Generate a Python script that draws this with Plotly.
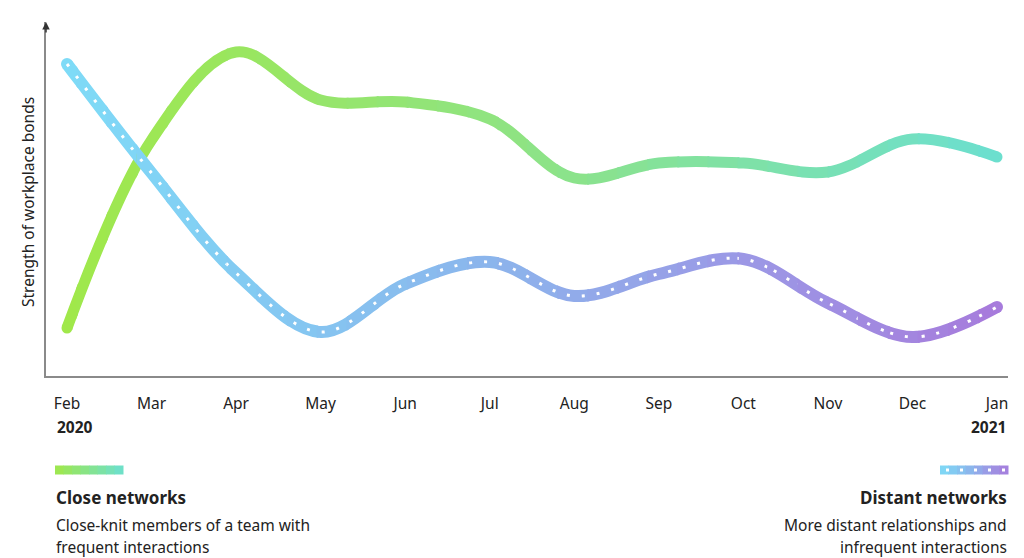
import plotly.graph_objects as go

# Data (arbitrary "strength" units)
months = ["Feb", "Mar", "Apr", "May", "Jun", "Jul", "Aug", "Sep", "Oct", "Nov", "Dec", "Jan"]
close_networks = [48, 236, 324, 276, 274, 257, 198, 213, 213, 204, 237, 219]
distant_networks = [312, 203, 103, 44, 92, 114, 80, 102, 117, 73, 39, 69]

FONT = "Noto Sans"
TEXT = "#222222"
AXIS = "#8a8a8a"

# Screen-pixel layout of the plot area (page body has an 8px margin)
PAGE_MARGIN = 8
W, H = 1024 - PAGE_MARGIN, 558 - PAGE_MARGIN
PLOT_LEFT, PLOT_RIGHT, PLOT_TOP, PLOT_BOTTOM = 46, 1008, 22, 376
PW = PLOT_RIGHT - PLOT_LEFT
PH = PLOT_BOTTOM - PLOT_TOP
M_L = PLOT_LEFT - PAGE_MARGIN
M_T = PLOT_TOP - PAGE_MARGIN
M_R = W - M_L - PW
M_B = H - M_T - PH
X0 = -21 / 84.545
X1 = 11 + 11 / 84.545
Y_RANGE = [0, PH]

GREEN_STOPS = [(0.0, (160, 232, 74)), (0.5, (142, 227, 133)), (1.0, (108, 223, 207))]
BLUE_STOPS = [(0.0, (126, 219, 247)), (0.45, (139, 181, 236)), (0.7, (154, 155, 230)), (1.0, (167, 123, 220))]


def mix(stops, t):
    t = min(max(t, 0.0), 1.0)
    for (t0, c0), (t1, c1) in zip(stops, stops[1:]):
        if t <= t1:
            f = (t - t0) / (t1 - t0)
            return "rgb(%d,%d,%d)" % tuple(round(a + (b - a) * f) for a, b in zip(c0, c1))
    return "rgb(%d,%d,%d)" % stops[-1][1]


def cap_sizes(n, size):
    # round-looking ends: markers only on the first and last point
    return [size] + [0] * (n - 2) + [size]


fig = go.Figure()
n_strips = 32
overlap = 2 / PW  # strips overlap a little so no seams show
x_idx = list(range(len(months)))
layout_axes = {}

# Each vertical strip is its own subplot showing the full series, clipped to the
# strip, so the colour can shift along x to fake a gradient stroke.
for i in range(n_strips):
    a = i / n_strips
    b = min(1.0, (i + 1) / n_strips + overlap)
    name = "x" if i == 0 else "x%d" % (i + 1)
    key = "xaxis" if i == 0 else "xaxis%d" % (i + 1)
    layout_axes[key] = dict(
        domain=[a, b], range=[X0 + a * (X1 - X0), X0 + b * (X1 - X0)],
        visible=False, fixedrange=True, anchor="y",
    )
    px_mid = PLOT_LEFT + (i + 0.5) / n_strips * PW
    t = (px_mid - 67) / 930
    g_col = mix(GREEN_STOPS, t)
    b_col = mix(BLUE_STOPS, t)
    fig.add_trace(go.Scatter(
        x=x_idx, y=close_networks, xaxis=name, yaxis="y",
        mode="lines+markers", line=dict(color=g_col, width=11, shape="spline"),
        marker=dict(color=g_col, size=cap_sizes(len(months), 11), opacity=1, line=dict(width=0)),
        hoverinfo="skip", showlegend=False,
    ))
    fig.add_trace(go.Scatter(
        x=x_idx, y=distant_networks, xaxis=name, yaxis="y",
        mode="lines+markers", line=dict(color=b_col, width=12, shape="spline"),
        marker=dict(color=b_col, size=cap_sizes(len(months), 12), opacity=1, line=dict(width=0)),
        hoverinfo="skip", showlegend=False,
    ))
    fig.add_trace(go.Scatter(
        x=x_idx, y=distant_networks, xaxis=name, yaxis="y",
        mode="lines", line=dict(color="white", width=3, shape="spline", dash="3px,12px"),
        hoverinfo="skip", showlegend=False,
    ))

# Visible axis carrying the month ticks
tick_key = "xaxis%d" % (n_strips + 1)
layout_axes[tick_key] = dict(
    domain=[0, 1], range=[X0, X1], anchor="y", fixedrange=True,
    tickvals=x_idx, ticktext=months, ticks="", ticklabelstandoff=13,
    tickfont=dict(family=FONT, size=15.5, color=TEXT),
    showline=True, linecolor=AXIS, linewidth=1.5, showgrid=False, zeroline=False,
)
fig.add_trace(go.Scatter(x=[], y=[], xaxis="x%d" % (n_strips + 1), yaxis="y",
                         showlegend=False, hoverinfo="skip"))


def px_x(px):
    return (px - PLOT_LEFT) / PW


def px_y(py):
    return (PLOT_BOTTOM - py) / PH


def label(text, px, py, xanchor, size, **kw):
    return dict(x=px_x(px), y=px_y(py), xref="paper", yref="paper", showarrow=False,
                xanchor=xanchor, yanchor="middle", text=text,
                font=dict(family=FONT, size=size, color=TEXT), **kw)


shapes = []
# legend swatches
for k in range(8):
    xa = 55 + k * 68 / 8
    xb = 55 + (k + 1) * 68 / 8
    shapes.append(dict(type="line", xref="paper", yref="paper", x0=px_x(xa), x1=px_x(xb + 0.5),
                       y0=px_y(470), y1=px_y(470),
                       line=dict(color=mix([(0, (160, 232, 74)), (1, (108, 223, 207))], (k + 0.5) / 8), width=9)))
    xa = 940 + k * 68 / 8
    xb = 940 + (k + 1) * 68 / 8
    shapes.append(dict(type="line", xref="paper", yref="paper", x0=px_x(xa), x1=px_x(xb + 0.5),
                       y0=px_y(470), y1=px_y(470),
                       line=dict(color=mix(BLUE_STOPS, (k + 0.5) / 8), width=9)))
shapes.append(dict(type="line", xref="paper", yref="paper", x0=px_x(946), x1=px_x(1006),
                   y0=px_y(470), y1=px_y(470), line=dict(color="white", width=3, dash="3px,11px")))

annotations = [
    dict(x=0, y=1, xref="paper", yref="paper", ax=0, ay=12, showarrow=True,
         arrowhead=2, arrowsize=1, arrowwidth=1.5, arrowcolor="#333333", text=""),
    label("Strength of workplace bonds", 28, 202, "center", 15.5, textangle=-90),
    label("<b>2020</b>", 55, 427, "left", 15.5),
    label("<b>2021</b>", 1008, 427, "right", 15.5),
    label("<b>Close networks</b>", 54, 497, "left", 17),
    label("Close-knit members of a team with", 54, 525, "left", 15.5),
    label("frequent interactions", 54, 547, "left", 15.5),
    label("<b>Distant networks</b>", 1009, 497, "right", 17),
    label("More distant relationships and", 1009, 525, "right", 15.5),
    label("infrequent interactions", 1009, 547, "right", 15.5),
]

fig.update_layout(
    width=W, height=H,
    margin=dict(l=M_L, r=M_R, t=M_T, b=M_B),
    paper_bgcolor="white", plot_bgcolor="rgba(0,0,0,0)",
    yaxis=dict(range=Y_RANGE, showticklabels=False, ticks="", showgrid=False, zeroline=False,
               showline=True, linecolor=AXIS, linewidth=1.5, anchor="x", fixedrange=True),
    shapes=shapes, annotations=annotations,
    showlegend=False,
    **layout_axes,
)

fig.write_html("out.html", config={"displayModeBar": False})
